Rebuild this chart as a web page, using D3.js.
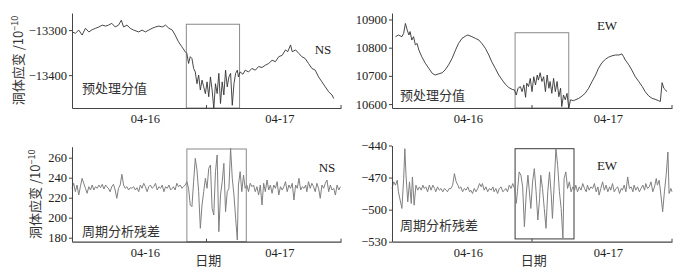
<!DOCTYPE html>
<html><head><meta charset="utf-8">
<script src="https://cdn.jsdelivr.net/npm/d3@7"></script>
<style>
body{margin:0;background:#fff;}
svg{display:block;}
.tick text{font-family:"Liberation Serif","Times New Roman",serif;font-size:12.5px;fill:#222;}
</style></head>
<body><svg id="c" width="684" height="275"></svg>
<script>
// ---------- data (time in hours since 04-15 00:00) ----------
const nsRawT = [11.0,11.6,12.2,12.8,13.4,14.0,14.6,15.2,15.8,16.4,17.0,17.5,18.1,18.7,19.3,19.8,20.2,20.8,21.4,22.0,22.9,23.5,24.1,24.7,25.3,25.9,26.5,27.1,27.7,28.3,28.9,29.4,30.0,30.6,31.2,31.5,31.8,32.1,32.4,32.7,33.0,33.3,33.6,33.9,34.2,34.5,34.8,35.1,35.4,35.7,36.0,36.3,36.6,36.9,37.2,37.5,37.8,38.1,38.4,38.7,39.0,39.3,39.6,39.9,40.2,40.5,40.7,41.0,41.5,41.9,42.5,43.1,43.7,44.3,44.9,45.5,46.1,46.7,47.3,47.9,48.5,49.1,49.5,50.0,50.3,50.9,51.5,52.0,52.6,53.2,53.8,54.4,55.0,55.6,56.2,56.8,57.4,57.7];
const nsRawV = [-13304,-13307,-13300,-13311,-13296,-13304,-13299,-13296,-13293,-13289,-13291,-13289,-13285,-13293,-13289,-13278,-13293,-13289,-13296,-13300,-13304,-13300,-13304,-13300,-13296,-13293,-13291,-13293,-13289,-13296,-13300,-13311,-13326,-13337,-13348,-13352,-13374,-13359,-13363,-13385,-13393,-13419,-13400,-13433,-13411,-13426,-13441,-13415,-13448,-13404,-13433,-13474,-13419,-13441,-13396,-13463,-13415,-13444,-13389,-13426,-13404,-13396,-13467,-13419,-13396,-13389,-13404,-13393,-13398,-13389,-13393,-13385,-13389,-13381,-13383,-13378,-13374,-13367,-13370,-13359,-13356,-13344,-13348,-13333,-13348,-13344,-13352,-13359,-13363,-13374,-13385,-13389,-13404,-13415,-13426,-13437,-13444,-13452];

const ewRawT = [11.6,12.1,12.7,13.0,13.3,13.6,13.9,14.1,14.4,14.7,15.0,15.3,15.6,16.1,16.7,17.3,17.9,18.4,19.0,19.6,20.1,20.7,21.3,21.9,22.4,23.0,23.6,24.0,24.7,25.3,25.9,26.4,27.0,27.6,28.1,28.7,29.3,29.9,30.4,31.0,31.6,32.0,32.3,32.6,33.0,33.3,33.6,33.9,34.1,34.4,34.7,35.0,35.3,35.6,35.9,36.1,36.4,36.7,37.0,37.3,37.6,37.9,38.1,38.4,38.7,39.0,39.3,39.6,39.9,40.1,40.4,40.7,41.0,41.3,41.6,42.1,43.0,43.6,44.1,44.7,45.3,45.9,46.4,47.0,47.6,48.1,48.7,49.3,49.9,50.4,50.7,51.0,51.6,52.1,52.7,53.3,53.9,54.4,55.0,55.6,56.1,56.7,57.0,57.3,57.6,57.9,58.1];
const ewRawV = [10839,10845,10839,10851,10886,10863,10845,10857,10827,10839,10810,10815,10792,10768,10745,10727,10709,10703,10707,10711,10721,10739,10762,10792,10815,10833,10841,10845,10839,10833,10827,10815,10798,10774,10750,10727,10703,10685,10671,10659,10652,10650,10632,10656,10662,10644,10668,10624,10674,10662,10691,10644,10697,10668,10703,10685,10711,10680,10697,10644,10703,10656,10680,10638,10691,10644,10680,10626,10656,10591,10632,10615,10638,10585,10615,10612,10620,10629,10638,10656,10680,10703,10727,10747,10759,10766,10771,10774,10774,10778,10768,10756,10739,10721,10697,10680,10662,10644,10629,10620,10617,10612,10609,10676,10656,10650,10644];

const nsResT = [11.0,11.3,11.6,11.9,12.2,12.5,12.8,13.1,13.4,13.7,14.0,14.3,14.6,14.9,15.2,15.5,15.8,16.1,16.4,16.7,17.0,17.2,17.5,17.8,18.1,18.4,18.7,19.0,19.3,19.6,19.9,20.2,20.5,20.8,21.1,21.4,21.7,22.0,22.3,22.6,22.9,23.2,23.5,23.8,24.1,24.4,24.7,25.0,25.3,25.6,25.9,26.2,26.5,26.8,27.1,27.4,27.7,28.0,28.3,28.6,28.9,29.1,29.4,29.7,30.0,30.3,30.6,30.9,31.2,31.5,31.8,32.1,32.4,32.7,33.0,33.3,33.6,33.9,34.2,34.5,34.8,35.1,35.4,35.7,36.0,36.3,36.6,36.9,37.2,37.5,37.8,38.1,38.4,38.7,39.0,39.3,39.6,39.9,40.2,40.5,40.7,41.0,41.3,41.6,41.9,42.2,42.5,42.8,43.1,43.4,43.7,44.0,44.3,44.6,44.9,45.2,45.5,45.8,46.1,46.4,46.7,47.0,47.3,47.6,47.9,48.2,48.5,48.8,49.1,49.4,49.7,50.0,50.3,50.6,50.9,51.2,51.5,51.8,52.1,52.4,52.7,52.9,53.2,53.5,53.8,54.1,54.4,54.7,55.0,55.3,55.6,55.9,56.2,56.5,56.8,57.1,57.4,57.7,58.0,58.3,58.6,58.9];
const nsResV = [229.4,234.4,226.0,232.7,222.7,231.0,239.4,234.4,229.4,224.4,231.0,227.7,232.7,227.7,231.0,229.4,232.7,230.0,233.4,228.7,232.7,231.0,229.4,226.0,231.0,233.4,227.7,219.4,229.4,232.7,243.4,232.7,229.4,231.0,227.7,230.0,229.4,231.0,227.7,230.0,226.0,232.7,229.4,234.4,231.0,226.0,231.0,232.7,229.4,231.0,234.4,227.7,231.0,229.4,232.7,226.0,231.0,229.4,232.7,227.7,229.4,231.0,227.7,234.4,231.0,232.7,229.4,231.0,232.7,236.0,229.4,212.7,211.0,236.0,259.4,247.7,226.0,189.4,212.7,226.0,239.4,229.4,249.4,252.7,209.4,202.7,246.0,262.7,186.0,222.7,236.0,254.4,206.0,226.0,229.4,269.4,239.4,222.7,199.4,177.7,232.7,246.0,226.0,242.7,229.4,232.7,226.0,234.4,231.0,232.7,226.0,231.0,222.7,232.7,212.7,234.4,226.0,237.7,227.7,232.7,224.4,232.7,229.4,236.0,222.7,231.0,227.7,231.0,236.0,226.0,232.7,229.4,234.4,217.7,232.7,229.4,239.4,227.7,231.0,229.4,232.7,226.0,236.0,229.4,234.4,231.0,226.0,234.4,229.4,219.4,232.7,229.4,234.4,237.7,226.0,232.7,227.7,229.4,222.7,232.7,227.7,231.0];

const ewResT = [11.0,11.3,11.6,11.9,12.1,12.4,12.7,13.0,13.2,13.4,13.7,14.0,14.3,14.5,14.8,15.1,15.4,15.7,16.0,16.3,16.5,16.8,17.1,17.4,17.7,18.0,18.3,18.5,18.8,19.1,19.4,19.7,20.0,20.3,20.5,20.8,21.1,21.4,21.7,22.0,22.3,22.5,22.8,23.1,23.4,23.7,24.0,24.3,24.5,24.8,25.1,25.4,25.7,26.0,26.3,26.5,26.8,27.1,27.4,27.7,28.0,28.3,28.5,28.8,29.1,29.4,29.7,30.0,30.3,30.5,30.8,31.1,31.4,31.7,32.0,32.3,32.5,32.8,33.1,33.4,33.7,34.0,34.3,34.5,34.8,35.1,35.4,35.7,36.0,36.3,36.5,36.8,37.1,37.4,37.7,38.0,38.3,38.5,38.8,39.1,39.4,39.7,40.0,40.3,40.5,40.8,41.1,41.4,41.7,42.0,42.3,42.5,42.8,43.1,43.4,43.7,44.0,44.3,44.5,44.8,45.1,45.4,45.7,46.0,46.3,46.5,46.8,47.1,47.4,47.7,48.0,48.3,48.5,48.8,49.1,49.4,49.7,50.0,50.3,50.5,50.8,51.1,51.4,51.7,52.0,52.3,52.5,52.8,53.1,53.4,53.7,54.0,54.3,54.5,54.8,55.1,55.4,55.7,56.0,56.3,56.5,56.8,57.1,57.4,57.7,58.0,58.3,58.5,58.8,59.0];
const ewResV = [-480.2,-474.0,-477.1,-472.5,-483.3,-491.1,-498.9,-470.9,-443.0,-467.8,-492.7,-474.0,-494.2,-469.4,-495.8,-477.1,-481.8,-478.7,-481.8,-477.1,-480.2,-478.7,-483.3,-477.1,-481.8,-477.1,-480.2,-483.3,-478.7,-481.8,-480.2,-483.3,-480.2,-481.8,-483.3,-480.2,-480.2,-477.1,-466.3,-474.0,-477.1,-480.2,-478.7,-483.3,-480.2,-481.8,-478.7,-483.3,-481.8,-484.9,-480.2,-483.3,-480.2,-475.6,-478.7,-475.6,-481.8,-478.7,-483.3,-480.2,-481.8,-478.7,-483.3,-480.2,-484.9,-480.2,-478.7,-483.3,-481.8,-480.2,-483.3,-477.1,-480.2,-475.6,-480.2,-494.2,-483.3,-464.7,-467.8,-478.7,-516.0,-486.4,-467.8,-480.2,-498.9,-474.0,-461.6,-483.3,-509.7,-489.6,-467.8,-480.2,-498.9,-517.5,-483.3,-464.7,-486.4,-508.2,-477.1,-443.0,-458.5,-483.3,-498.9,-526.8,-470.9,-464.7,-480.2,-474.0,-483.3,-478.7,-481.8,-477.1,-483.3,-478.7,-481.8,-475.6,-480.2,-483.3,-477.1,-481.8,-478.7,-480.2,-475.6,-483.3,-478.7,-486.4,-480.2,-474.0,-481.8,-477.1,-483.3,-478.7,-481.8,-475.6,-483.3,-480.2,-478.7,-484.9,-480.2,-481.8,-477.1,-483.3,-469.4,-480.2,-478.7,-483.3,-477.1,-481.8,-478.7,-483.3,-480.2,-477.1,-481.8,-475.6,-480.2,-478.7,-474.0,-483.3,-478.7,-470.9,-477.1,-472.5,-486.4,-502.0,-483.3,-467.8,-446.1,-484.9,-480.2,-483.3];

const dayTicks = [24, 48];
const dayLabels = ["04-16", "04-17"];
const minorTicks = [35, 59];
const timeDomain = [11, 59];

const panels = [
  {name:"NS", label:"预处理分值", t:nsRawT, v:nsRawV, yDomain:[-13473,-13262], yTicks:[-13400,-13300], box:[31.4,40.9,-13287,null]},
  {name:"EW", label:"预处理分值", t:ewRawT, v:ewRawV, yDomain:[10586,10923], yTicks:[10600,10700,10800,10900], box:[32.1,41.3,10853,null]},
  {name:"NS", label:"周期分析残差", t:nsResT, v:nsResV, yDomain:[176,271], yTicks:[180,200,220,240,260], box:[31.5,42.1,268.7,null]},
  {name:"EW", label:"周期分析残差", t:ewResT, v:ewResV, yDomain:[-530,-440], yTicks:[-530,-500,-470,-440], box:[32.1,42.2,-443,-527.4]}
];

// ---------- layout ----------
const layout = [
  {x0:72, x1:341, y0:13, y1:108, line:"#333", lw:0.9, boxC:"#8a8a8a", nsX:323, nsY:54, lblX:82, lblY:93, titleX:18},
  {x0:392, x1:672, y0:13, y1:108, line:"#333", lw:0.9, boxC:"#8a8a8a", nsX:607, nsY:30, lblX:400, lblY:100},
  {x0:72, x1:341, y0:146.7, y1:241.7, line:"#808080", lw:1, boxC:"#8a8a8a", nsX:327, nsY:172, lblX:82, lblY:236, titleX:35, date:true},
  {x0:392, x1:672, y0:145.5, y1:241.7, line:"#808080", lw:1, boxC:"#3a3a3a", nsX:607, nsY:170, lblX:400, lblY:230, date:true}
];

const svg = d3.select("#c");
const cjk = '"Noto Sans CJK SC","Noto Sans CJK JP",sans-serif';
const serif = '"Liberation Serif","Times New Roman",serif';

panels.forEach((p, i) => {
  const L = layout[i];
  const x = d3.scaleLinear().domain(timeDomain).range([L.x0, L.x1]);
  const y = d3.scaleLinear().domain(p.yDomain).range([L.y1, L.y0]);
  const g = svg.append("g");

  // box
  const bx0 = x(p.box[0]), bx1 = x(p.box[1]);
  const by0 = y(p.box[2]), by1 = p.box[3] === null ? L.y1 : y(p.box[3]);
  g.append("rect").attr("x", bx0).attr("y", by0).attr("width", bx1 - bx0).attr("height", by1 - by0)
    .attr("fill", "none").attr("stroke", L.boxC).attr("stroke-width", 1);

  // line
  const data = p.t.map((t, k) => [t, p.v[k]]);
  g.append("path").datum(data)
    .attr("d", d3.line().x(d => x(d[0])).y(d => y(d[1])))
    .attr("fill", "none").attr("stroke", L.line).attr("stroke-width", L.lw).attr("stroke-linejoin", "round");

  // axes
  const ya = g.append("g").attr("transform", `translate(${L.x0},0)`)
    .call(d3.axisLeft(y).tickValues(p.yTicks).tickSize(3).tickSizeOuter(0).tickPadding(2).tickFormat(d3.format("d")));
  ya.select(".domain").attr("stroke", "#444");
  ya.selectAll(".tick line").attr("stroke", "#444");

  const xa = g.append("g").attr("transform", `translate(0,${L.y1})`)
    .call(d3.axisBottom(x).tickValues(dayTicks).tickSize(0).tickPadding(6).tickFormat((d, k) => dayLabels[k]));
  xa.select(".domain").attr("stroke", "#444").attr("stroke-width", 1.2);
  // inward minor ticks
  g.selectAll(".mt").data(minorTicks).join("line")
    .attr("x1", d => x(d)).attr("x2", d => x(d)).attr("y1", L.y1).attr("y2", L.y1 - 3)
    .attr("stroke", "#444");

  // texts
  g.append("text").attr("x", L.nsX).attr("y", L.nsY).attr("text-anchor", "middle")
    .style("font-family", serif).style("font-size", "13px").attr("fill", "#222").text(p.name);
  g.append("text").attr("x", L.lblX).attr("y", L.lblY)
    .style("font-family", cjk).style("font-size", "13px").attr("fill", "#333").text(p.label);

  if (L.titleX !== undefined) {
    const cy = (L.y0 + L.y1) / 2;
    const t = g.append("text").attr("transform", `translate(${L.titleX},${cy}) rotate(-90)`)
      .attr("text-anchor", "middle").attr("dy", "0.35em")
      .style("font-family", cjk).style("font-size", "13px").attr("fill", "#333");
    t.append("tspan").text("洞体应变 /10");
    t.append("tspan").attr("dy", "-0.5em").style("font-size", "9px").text("−10");
  }
  if (L.date) {
    g.append("text").attr("x", x(35.3)).attr("y", 265).attr("text-anchor", "middle")
      .style("font-family", cjk).style("font-size", "13px").attr("fill", "#333").text("日期");
  }
});
</script></body></html>
